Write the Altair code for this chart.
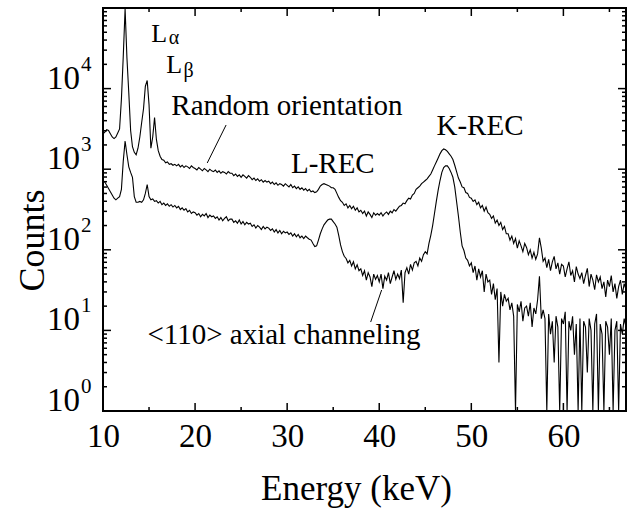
import altair as alt
import pandas as pd

FONT = "Liberation Serif"

# ---------------- data ----------------
ENERGY_START = 10.0   # keV, first channel shown
ENERGY_STEP = 0.2     # keV per sampled channel

random_counts = [
    2750, 2880, 3090, 3020, 2750, 2510, 2400, 2510, 2820, 3160,   # 10.0
    7400, 25100, 97700, 24000, 8900, 3020, 1900, 1620, 1510, 1820,  # 12.0
    2510, 3800, 5620, 10700, 12600, 6310, 1820, 2510, 4370, 2340,  # 14.0
    1700, 1450, 1320, 1290, 1200, 1230, 1150, 1170, 1120, 1150,   # 16.0
    1100, 1150, 1070, 1120, 1050, 1100, 1070, 1020, 1100, 1050,   # 18.0
    1020, 980, 1050, 1000, 955, 1020, 980, 933, 1000, 955,       # 20.0
    933, 977, 912, 955, 891, 933, 912, 871, 933, 891,            # 22.0
    891, 832, 871, 813, 851, 794, 851, 813, 776, 832,            # 24.0
    794, 741, 776, 724, 759, 708, 741, 692, 724, 692,            # 26.0
    708, 661, 692, 646, 676, 631, 661, 646, 617, 661,            # 28.0
    631, 603, 646, 589, 617, 575, 603, 562, 589, 550,            # 30.0
    575, 537, 562, 525, 537, 513, 525, 562, 617, 646,            # 32.0
    661, 646, 631, 617, 589, 589, 562, 501, 447, 407,            # 34.0
    389, 355, 372, 331, 355, 324, 347, 309, 331, 295,            # 36.0
    309, 282, 302, 263, 295, 275, 251, 288, 269, 282,            # 38.0
    269, 288, 263, 282, 295, 275, 302, 288, 316, 302,            # 40.0
    324, 347, 355, 380, 372, 407, 437, 427, 479, 501,            # 42.0
    562, 589, 617, 661, 692, 724, 759, 813, 871, 977,            # 44.0
    1100, 1230, 1380, 1550, 1700, 1780, 1740, 1660, 1550, 1450,   # 46.0
    1320, 1120, 933, 776, 692, 603, 589, 513, 501, 447,           # 48.0
    437, 398, 417, 363, 389, 331, 355, 302, 339, 288,            # 50.0
    275, 245, 263, 214, 234, 200, 219, 178, 195, 158,            # 52.0
    158, 132, 148, 120, 138, 105, 129, 112, 95, 120,             # 54.0
    107, 87, 100, 79, 93, 76, 89, 141, 105, 72,                  # 56.0
    79, 60, 76, 55, 71, 83, 58, 69, 50, 66,                      # 58.0
    63, 46, 58, 71, 48, 55, 40, 62, 50, 44,                      # 60.0
    52, 38, 48, 59, 35, 50, 42, 32, 49, 40,                      # 62.0
    46, 33, 40, 26, 42, 35, 48, 30, 38, 25,                      # 64.0
    35, 42, 28, 38, 32,                                          # 66.0
]

channeling_counts = [
    708, 692, 631, 575, 525, 479, 437, 417, 437, 457,            # 10.0
    562, 1260, 2240, 1510, 1070, 912, 794, 457, 389, 389,        # 12.0
    398, 389, 417, 501, 646, 457, 417, 427, 398, 407,            # 14.0
    380, 398, 363, 380, 355, 372, 347, 363, 339, 355,            # 16.0
    331, 347, 316, 331, 309, 324, 295, 309, 282, 295,            # 18.0
    288, 269, 282, 257, 275, 263, 282, 251, 269, 257,            # 20.0
    263, 245, 257, 234, 251, 229, 245, 257, 229, 240,            # 22.0
    240, 219, 229, 214, 234, 209, 224, 204, 219, 209,            # 24.0
    214, 195, 204, 186, 200, 191, 178, 195, 182, 191,            # 26.0
    186, 174, 182, 166, 178, 162, 174, 158, 170, 162,            # 28.0
    166, 155, 162, 148, 158, 145, 155, 141, 148, 138,            # 30.0
    148, 141, 135, 132, 120, 110, 112, 132, 158, 182,            # 32.0
    204, 219, 234, 240, 240, 224, 209, 191, 151, 115,            # 34.0
    95, 83, 78, 69, 74, 63, 71, 58, 65, 55,                      # 36.0
    58, 48, 55, 42, 52, 46, 35, 50, 43, 48,                      # 38.0
    40, 50, 33, 47, 42, 52, 38, 46, 55, 43,                      # 40.0
    50, 44, 56, 22, 52, 60, 50, 66, 56, 69,                      # 42.0
    72, 63, 79, 72, 87, 95, 89, 120, 151, 200,                   # 44.0
    282, 398, 550, 724, 912, 1050, 1100, 1100, 1020, 912,        # 46.0
    794, 603, 398, 263, 166, 112, 98, 79, 74, 63,                # 48.0
    69, 52, 63, 42, 58, 46, 55, 30, 50, 40,                      # 50.0
    42, 28, 38, 24, 33, 4, 30, 20, 28, 23,                       # 52.0
    25, 18, 22, 15, 0, 21, 17, 23, 13, 19,                       # 54.0
    20, 15, 22, 11, 19, 16, 24, 47, 14, 18,                      # 56.0
    14, 0, 16, 9, 13, 4, 15, 11, 1, 14,                          # 58.0
    12, 17, 0, 13, 10, 15, 5, 12, 1, 14,                         # 60.0
    0, 13, 11, 3, 14, 10, 0, 12, 16, 1,                          # 62.0
    12, 9, 0, 13, 11, 5, 14, 0, 10, 13,                          # 64.0
    1, 12, 9, 14, 11,                                            # 66.0
]

x_label_values = [10, 20, 30, 40, 50, 60]
x_minor_values = [15, 25, 35, 45, 55, 65]
y_label_values = [1, 10, 100, 1000, 10000]
y_label_exponents = ["0", "1", "2", "3", "4"]
y_major_values = [1, 10, 100, 1000, 10000, 100000]
y_minor_values = [m * 10 ** k for k in range(5) for m in range(2, 10)]

# annotation texts (position in data units: keV, counts)
big_text = ["Random orientation", "L-REC", "K-REC", "<110> axial channeling"]
big_x = [17.42, 30.41, 46.22, 14.82]
big_y = [4700, 897, 2655, 6.78]
line_text = ["L", "L"]
line_x = [15.25, 16.88]
line_y = [37850, 15600]
sub_text = ["α", "β"]
sub_x = [17.15, 18.75]
sub_y = [36000, 13900]
pointer_x = [23.37, 40.26]
pointer_y = [3535, 31.7]
pointer_x2 = [21.32, 39.07]
pointer_y2 = [1194, 12.7]

# ---------------- tables ----------------
rows = []
for name, counts in (("Random orientation", random_counts), ("<110> axial channeling", channeling_counts)):
    for i, c in enumerate(counts):
        rows.append({"energy": round(ENERGY_START + ENERGY_STEP * i, 1),
                     "counts": c,
                     "plotted": max(c, 0.5),   # empty channels drawn at the axis floor
                     "series": name})
spec_df = pd.DataFrame(rows)

W, H = 523, 403
x_scale = alt.Scale(domain=[10, 66.8], nice=False, zero=False)
y_scale = alt.Scale(type="log", domain=[1, 100000], nice=False, clamp=True)

x_axis = alt.Axis(values=x_label_values, format="d", labelFont=FONT, labelFontSize=33,
                  labelColor="black", labelPadding=9, labelFlush=False, labelOverlap=False,
                  ticks=False, tickSize=0,
                  domain=False, grid=False, title="Energy (keV)", titleFont=FONT,
                  titleFontSize=35, titleFontWeight="normal", titleColor="black",
                  titleBaseline="alphabetic", titleAlign="center", titleX=253, titleY=88)
y_axis = alt.Axis(labels=False, ticks=False, tickSize=0, domain=False, grid=False,
                  title="Counts", titleFont=FONT, titleFontSize=36,
                  titleFontWeight="normal", titleColor="black", titleAngle=270,
                  titleAlign="center", titleBaseline="alphabetic",
                  titleX=-60, titleY=232)


def X(field):
    return alt.X(field, scale=x_scale, axis=x_axis, title="Energy (keV)")


def Y(field):
    return alt.Y(field, scale=y_scale, axis=y_axis, title="Counts")


lines = alt.Chart(spec_df).mark_line(color="black", strokeWidth=1.1, clip=True).encode(
    x=X("energy:Q"), y=Y("plotted:Q"), detail="series:N")


def xticks(values, length, top):
    d = pd.DataFrame({"v": values})
    y0 = 0 if top else H
    y1 = length if top else H - length
    return alt.Chart(d).mark_rule(color="black", strokeWidth=1.5).encode(
        x=X("v:Q"), y=alt.value(y0), y2=alt.value(y1))


def yticks(values, length, right):
    d = pd.DataFrame({"v": values})
    x0 = W if right else 0
    x1 = W - length if right else length
    return alt.Chart(d).mark_rule(color="black", strokeWidth=1.5).encode(
        y=Y("v:Q"), x=alt.value(x0), x2=alt.value(x1))


tick_layers = [
    xticks(x_label_values, 8, False), xticks(x_minor_values, 4, False),
    xticks(x_label_values, 8, True), xticks(x_minor_values, 4, True),
    yticks(y_major_values, 8, False), yticks(y_minor_values, 4, False),
    yticks(y_major_values, 8, True), yticks(y_minor_values, 4, True),
]

ylab_df = pd.DataFrame({"v": y_label_values, "base": ["10"] * len(y_label_values),
                        "exp": y_label_exponents})
ylab_base = alt.Chart(ylab_df).mark_text(font=FONT, fontSize=33, align="right",
                                         baseline="alphabetic", color="black").encode(
    x=alt.value(-23), y=Y("v:Q"), text="base:N")
ylab_exp = alt.Chart(ylab_df).mark_text(font=FONT, fontSize=21, align="left",
                                        baseline="alphabetic", color="black", dy=-18).encode(
    x=alt.value(-22), y=Y("v:Q"), text="exp:N")

big_df = pd.DataFrame({"x": big_x, "y": big_y, "t": big_text})
big = alt.Chart(big_df).mark_text(font=FONT, fontSize=29, align="left", baseline="alphabetic",
                                  color="black").encode(
    x=X("x:Q"), y=Y("y:Q"), text="t:N")
l_df = pd.DataFrame({"x": line_x, "y": line_y, "t": line_text})
l_marks = alt.Chart(l_df).mark_text(font=FONT, fontSize=26, align="left", baseline="alphabetic",
                                    color="black").encode(
    x=X("x:Q"), y=Y("y:Q"), text="t:N")
sub_df = pd.DataFrame({"x": sub_x, "y": sub_y, "t": sub_text})
sub = alt.Chart(sub_df).mark_text(font=FONT, fontSize=20, align="left", baseline="alphabetic",
                                  color="black").encode(
    x=X("x:Q"), y=Y("y:Q"), text="t:N")
ptr_df = pd.DataFrame({"x": pointer_x, "y": pointer_y, "x2": pointer_x2, "y2": pointer_y2})
ptr = alt.Chart(ptr_df).mark_rule(color="black", strokeWidth=1).encode(
    x=X("x:Q"), y=Y("y:Q"), x2="x2:Q", y2="y2:Q")

chart = alt.layer(lines, *tick_layers, ylab_base, ylab_exp, big, l_marks, sub, ptr).properties(
    width=W, height=H,
    padding={"left": 103, "top": 8, "right": 9, "bottom": 99},
    autosize=alt.AutoSizeParams(type="none"),
    background="white",
).configure_view(stroke="black", strokeWidth=2)

chart.save("out.html", embed_options={"renderer": "svg", "actions": False})
